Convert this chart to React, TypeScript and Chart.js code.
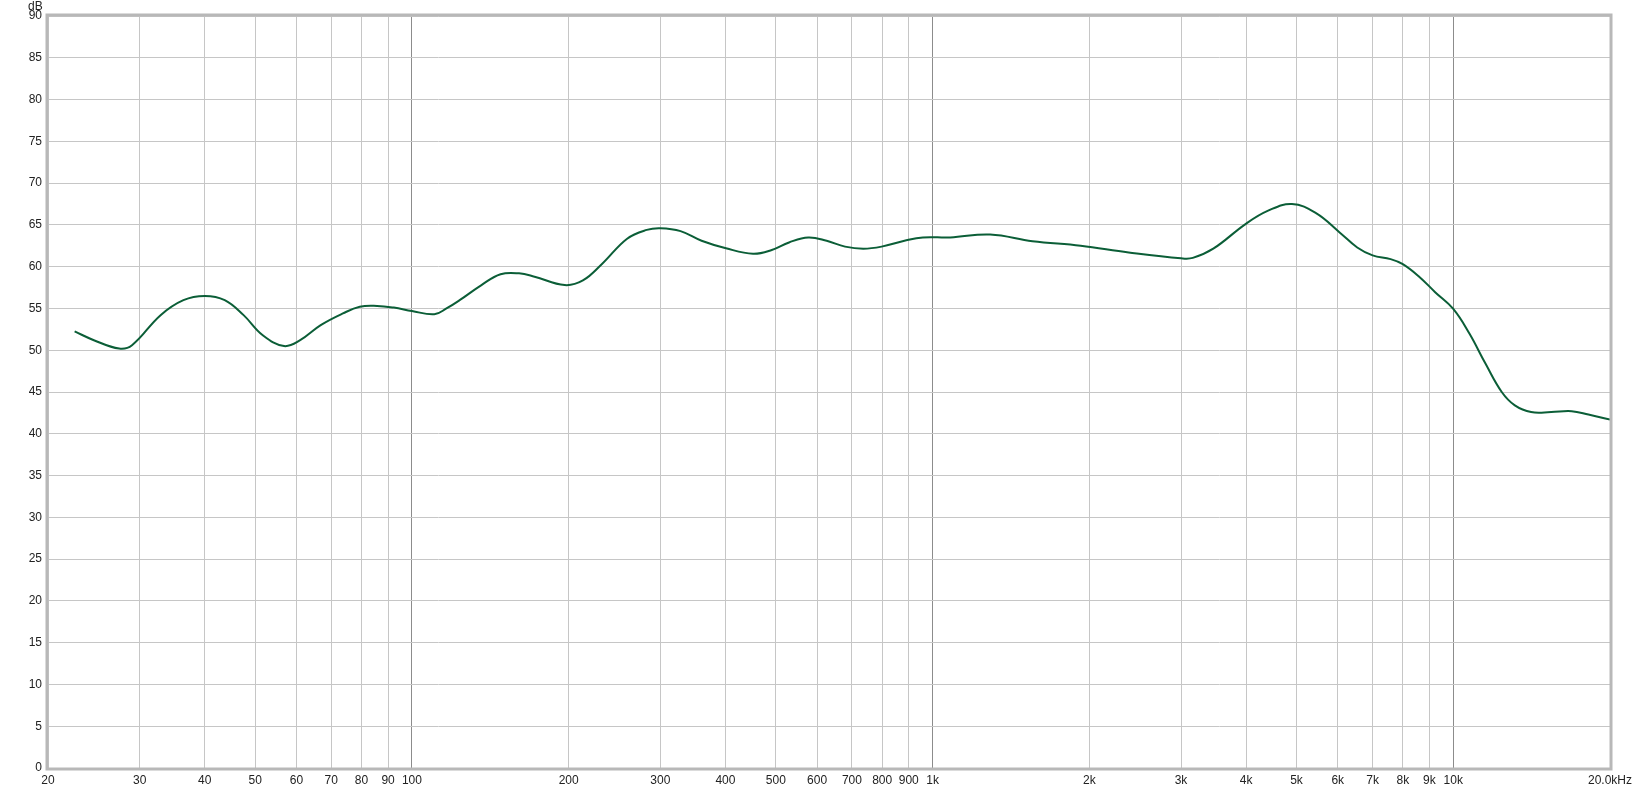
import React, { useEffect, useRef } from "react";
import { Chart, registerables } from "chart.js";

Chart.register(...registerables);

const freqs = [22.5, 24.5, 27.4, 29.0, 32.9, 36.4, 40.0, 43.7, 47.5, 51.7, 56.8, 61.0, 66.8, 73.7, 79.4, 85.7, 92.3, 100, 110.4, 116.5, 123.9, 136, 148, 160.6, 172, 196.5, 213, 232, 259, 282.5, 300, 328, 360, 401, 452, 491, 530, 577, 626, 679, 736, 798, 883, 958, 1081, 1290, 1555, 1925, 2380, 3000, 3160, 3460, 3990, 4410, 4900, 5450, 6050, 6540, 7000, 7580, 8000, 8600, 9230, 10000, 10740, 11530, 12390, 13130, 14110, 15420, 16880, 18180, 20000];
const levels = [52.25, 51.2, 50.2, 50.6, 54.2, 56.0, 56.5, 56.0, 54.2, 51.8, 50.5, 51.2, 53.0, 54.4, 55.2, 55.3, 55.1, 54.7, 54.3, 55.0, 56.05, 57.8, 59.1, 59.2, 58.8, 57.8, 58.35, 60.35, 63.35, 64.4, 64.6, 64.25, 63.1, 62.2, 61.55, 62.0, 62.9, 63.5, 63.1, 62.4, 62.15, 62.4, 63.1, 63.5, 63.5, 63.85, 63.05, 62.5, 61.7, 61.0, 61.05, 62.15, 65.1, 66.7, 67.5, 66.4, 64.1, 62.3, 61.35, 60.9, 60.3, 58.8, 56.95, 54.95, 52.0, 48.4, 45.0, 43.4, 42.6, 42.6, 42.7, 42.3, 41.7];

const xTickValues = [20, 30, 40, 50, 60, 70, 80, 90, 100, 200, 300, 400, 500, 600, 700, 800, 900, 1000, 2000, 3000, 4000, 5000, 6000, 7000, 8000, 9000, 10000, 20000];
const xTickLabels = ["20", "30", "40", "50", "60", "70", "80", "90", "100", "200", "300", "400", "500", "600", "700", "800", "900", "1k", "2k", "3k", "4k", "5k", "6k", "7k", "8k", "9k", "10k", "20.0kHz"];
const decadeLines = [100, 1000, 10000];

export default function App() {
  const ref = useRef<HTMLCanvasElement | null>(null);

  useEffect(() => {
    document.body.style.margin = "0";
    const canvas = ref.current;
    if (!canvas) return;

    const framePlugin = {
      id: "frame",
      afterDraw(chart: any) {
        const { ctx, chartArea } = chart;
        ctx.save();
        ctx.strokeStyle = "#b8b8b8";
        ctx.lineWidth = 3;
        ctx.strokeRect(chartArea.left - 1, chartArea.top - 1, chartArea.right - chartArea.left + 2, chartArea.bottom - chartArea.top + 2);
        ctx.fillStyle = "#222";
        ctx.font = "12px 'Liberation Sans', Arial, sans-serif";
        ctx.textAlign = "left";
        ctx.textBaseline = "alphabetic";
        ctx.fillText("dB", 28, 10);
        ctx.restore();
      },
    };

    const chart = new Chart(canvas, {
      type: "line",
      data: {
        datasets: [
          {
            data: freqs.map((f, i) => ({ x: f, y: levels[i] })),
            borderColor: "#0b5e37",
            borderWidth: 2,
            pointRadius: 0,
            tension: 0.4,
            fill: false,
          },
        ],
      },
      options: {
        animation: false,
        responsive: false,
        maintainAspectRatio: false,
        layout: { padding: { top: 16, right: 23, left: 0, bottom: 0 } },
        plugins: { legend: { display: false }, tooltip: { enabled: false } },
        scales: {
          x: {
            type: "logarithmic",
            min: 20,
            max: 20000,
            afterBuildTicks: (axis: any) => {
              axis.ticks = xTickValues.map((v) => ({ value: v }));
            },
            afterFit: (s: any) => {
              s.height = 21;
              s.paddingLeft = 0;
              s.paddingRight = 0;
            },
            ticks: {
              autoSkip: false,
              maxRotation: 0,
              padding: 5,
              color: "#222",
              font: { family: "'Liberation Sans', Arial, sans-serif", size: 12 },
              callback: (v: any) => {
                const i = xTickValues.indexOf(Number(v));
                return i >= 0 ? xTickLabels[i] : "";
              },
            },
            grid: {
              drawTicks: false,
              color: (c: any) => (c.tick && decadeLines.includes(c.tick.value) ? "#8c8c8c" : "#c6c6c6"),
              lineWidth: 1,
            },
            border: { display: false },
          },
          y: {
            min: 0,
            max: 90,
            afterFit: (s: any) => {
              s.width = 48;
              s.paddingTop = 0;
              s.paddingBottom = 0;
            },
            ticks: {
              stepSize: 5,
              padding: 6,
              color: "#222",
              font: { family: "'Liberation Sans', Arial, sans-serif", size: 12 },
            },
            grid: { drawTicks: false, color: "#c6c6c6", lineWidth: 1 },
            border: { display: false },
          },
        },
      },
      plugins: [framePlugin],
    } as any);

    return () => chart.destroy();
  }, []);

  return (
    <div style={{ width: 1633, height: 789, background: "#fff" }}>
      <canvas ref={ref} width={1633} height={789} style={{ display: "block" }} />
    </div>
  );
}
